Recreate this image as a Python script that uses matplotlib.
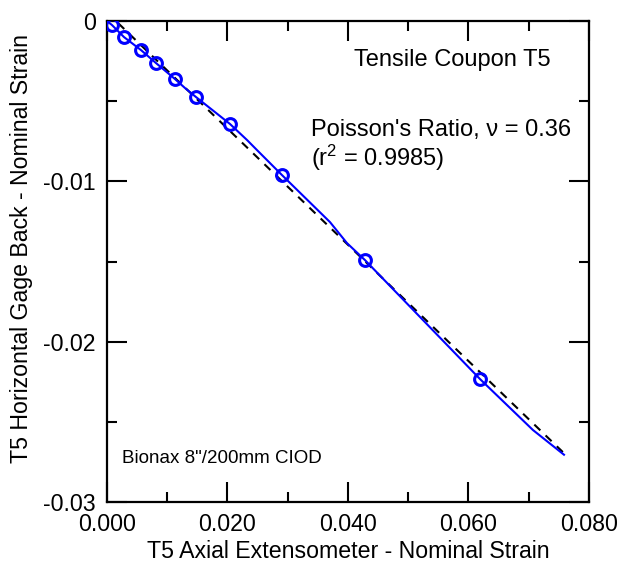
import matplotlib
matplotlib.use("Agg")
import matplotlib.pyplot as plt
import numpy as np

plt.rcParams['font.family'] = ['Liberation Sans', 'DejaVu Sans']
plt.rcParams['mathtext.fontset'] = 'custom'
plt.rcParams['mathtext.rm'] = 'Liberation Sans'
plt.rcParams['mathtext.it'] = 'Liberation Sans'

# measured curve (axial strain, transverse strain)
axial = [0.0002, 0.00083, 0.00282, 0.00564, 0.00813, 0.01129, 0.01295, 0.01477,
         0.02041, 0.02324, 0.0249, 0.02905, 0.03701, 0.03983, 0.04282, 0.06191,
         0.0707, 0.07585]
transverse = [-0.00006, -0.00025, -0.00100, -0.00181, -0.00262, -0.00362, -0.00418, -0.00474,
              -0.00642, -0.00742, -0.00805, -0.00961, -0.01254, -0.01385, -0.01491, -0.02233,
              -0.02551, -0.02705]

# marker points
mark_x = [0.00083, 0.00282, 0.00564, 0.00813, 0.01129, 0.01477, 0.02041, 0.02905, 0.04282, 0.06191]
mark_y = [-0.00025, -0.00100, -0.00181, -0.00262, -0.00362, -0.00474, -0.00642, -0.00961, -0.01491, -0.02233]

# linear fit line (clipped at the top of the axes)
fit_x = [0.0, 0.0757]
fit_y = [0.00054, -0.0269]

fig = plt.figure(figsize=(6.29, 5.67), dpi=100)
ax = fig.add_axes([0.1701, 0.1146, 0.7663, 0.8483])

ax.plot(fit_x, fit_y, color='black', lw=1.5, linestyle=(0, (4, 3.5)), zorder=2)
ax.plot(axial, transverse, color='#0000ff', lw=1.5, zorder=3)
ax.plot(mark_x, mark_y, 'o', mfc='none', mec='#0000ff', mew=2.2, ms=8.5, zorder=4)

ax.set_xlim(0, 0.08)
ax.set_ylim(-0.03, 0)
ax.set_xticks([0, 0.02, 0.04, 0.06, 0.08])
ax.set_xticklabels(['0.000', '0.020', '0.040', '0.060', '0.080'])
ax.set_xticks(np.arange(0.01, 0.08, 0.02), minor=True)
ax.set_yticks([0, -0.01, -0.02, -0.03])
ax.set_yticklabels(['0', '-0.01', '-0.02', '-0.03'])
ax.set_yticks([-0.005, -0.015, -0.025], minor=True)

ax.tick_params(which='both', direction='in', top=True, right=True, width=1.5, labelsize=16.7)
ax.tick_params(which='major', length=14.5)
ax.tick_params(axis='x', which='major', pad=8)
ax.tick_params(axis='y', which='major', pad=8)
ax.tick_params(which='minor', length=7.2)
for s in ax.spines.values():
    s.set_linewidth(1.6)

ax.set_xlabel('T5 Axial Extensometer - Nominal Strain', fontsize=16.7, va='top')
ax.xaxis.set_label_coords(0.5, -0.079)
ax.set_ylabel('T5 Horizontal Gage Back - Nominal Strain', fontsize=16.7)
ax.yaxis.set_label_coords(-0.1535, 0.528)

ax.text(0.041, -0.00243, 'Tensile Coupon T5', fontsize=17, va='center', ha='left')
ax.text(0.0339, -0.00717, "Poisson's Ratio, \u03bd = 0.36", fontsize=17, va='baseline', ha='left')
ax.text(0.0339, -0.00904, '(r$^{2}$ = 0.9985)', fontsize=17, va='baseline', ha='left')
ax.text(0.0025, -0.02726, 'Bionax 8"/200mm CIOD', fontsize=13.5, va='center', ha='left')

fig.savefig('out.png', dpi=100)
